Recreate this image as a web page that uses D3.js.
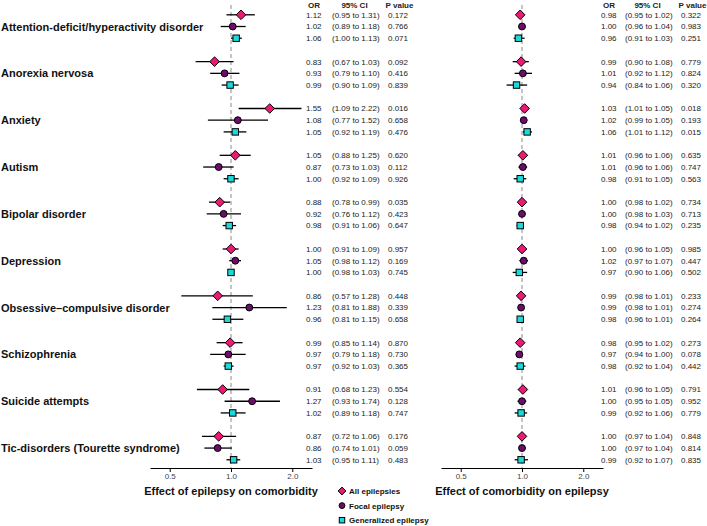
<!DOCTYPE html>
<html><head><meta charset="utf-8">
<script src="https://cdn.jsdelivr.net/npm/d3@7"></script>
<style>
html,body{margin:0;padding:0;background:#fff;}
svg{display:block;font-family:"Liberation Sans",Arial,Helvetica,sans-serif;}
</style></head>
<body>
<svg id="chart" width="707" height="526"></svg>
<script>
const conditions = ["Attention-deficit/hyperactivity disorder","Anorexia nervosa","Anxiety","Autism","Bipolar disorder","Depression","Obsessive\u2013compulsive disorder","Schizophrenia","Suicide attempts","Tic-disorders (Tourette syndrome)"];
const subtypes = ["All epilepsies","Focal epilepsy","Generalized epilepsy"];

// Effect of epilepsy on comorbidity: [OR, lower, upper, p] per condition x subtype
const leftOR  = [[1.12,1.02,1.06],[0.83,0.93,0.99],[1.55,1.08,1.05],[1.05,0.87,1.00],[0.88,0.92,0.98],[1.00,1.05,1.00],[0.86,1.23,0.96],[0.99,0.97,0.97],[0.91,1.27,1.02],[0.87,0.86,1.03]];
const leftLo  = [[0.95,0.89,1.00],[0.67,0.79,0.90],[1.09,0.77,0.92],[0.88,0.73,0.92],[0.78,0.76,0.91],[0.91,0.98,0.98],[0.57,0.81,0.81],[0.85,0.79,0.92],[0.68,0.93,0.89],[0.72,0.74,0.95]];
const leftHi  = [[1.31,1.18,1.13],[1.03,1.10,1.09],[2.22,1.52,1.19],[1.25,1.03,1.09],[0.99,1.12,1.06],[1.09,1.12,1.03],[1.28,1.88,1.15],[1.14,1.18,1.03],[1.23,1.74,1.18],[1.06,1.01,1.11]];
const leftP   = [["0.172","0.766","0.071"],["0.092","0.416","0.839"],["0.016","0.658","0.476"],["0.620","0.112","0.926"],["0.035","0.423","0.647"],["0.957","0.169","0.745"],["0.448","0.339","0.658"],["0.870","0.730","0.365"],["0.554","0.128","0.747"],["0.176","0.059","0.483"]];

// Effect of comorbidity on epilepsy
const rightOR = [[0.98,1.00,0.96],[0.99,1.01,0.94],[1.03,1.02,1.06],[1.01,1.01,0.98],[1.00,1.00,0.98],[1.00,1.02,0.97],[0.99,0.99,0.98],[0.98,0.97,0.98],[1.01,1.00,0.99],[1.00,1.00,0.99]];
const rightLo = [[0.95,0.96,0.91],[0.90,0.92,0.84],[1.01,0.99,1.01],[0.96,0.96,0.91],[0.98,0.98,0.94],[0.96,0.97,0.90],[0.98,0.98,0.96],[0.95,0.94,0.92],[0.96,0.95,0.92],[0.97,0.97,0.92]];
const rightHi = [[1.02,1.04,1.03],[1.08,1.12,1.06],[1.05,1.05,1.12],[1.06,1.06,1.05],[1.02,1.03,1.02],[1.05,1.07,1.06],[1.01,1.01,1.01],[1.02,1.00,1.04],[1.05,1.05,1.06],[1.04,1.04,1.07]];
const rightP  = [["0.322","0.983","0.251"],["0.779","0.824","0.320"],["0.018","0.193","0.015"],["0.635","0.747","0.563"],["0.734","0.713","0.235"],["0.985","0.447","0.502"],["0.233","0.274","0.264"],["0.273","0.078","0.442"],["0.791","0.952","0.779"],["0.848","0.814","0.835"]];

const tickValues = [0.5, 1.0, 2.0];
const tickLabels = ["0.5","1.0","2.0"];
const axisTitles = ["Effect of epilepsy on comorbidity","Effect of comorbidity on epilepsy"];
const colHeads = ["OR","95% CI","P value"];

const colors = ["#EC1A74","#6E0C6E","#1CDADA"];
const svg = d3.select("#chart");

// row index -> y
const yRow = d3.scaleLinear().domain([0, 39]).range([14.8, 14.8 + 39*11.71]);
const rowY = (i, j) => yRow(4*i + j);
const axisY = 468;

function marker(g, type, size) {
  if (type === 0) {
    g.append("path").attr("d", d3.symbol(d3.symbolDiamond2 ? d3.symbolSquare : d3.symbolSquare, size*size).size(0)());
  }
}
function drawMarker(sel, k, x, y, s) {
  // s = half width
  let el;
  if (k === 0) {
    el = sel.append("path").attr("d", `M${x},${y-s}L${x+s},${y}L${x},${y+s}L${x-s},${y}Z`);
  } else if (k === 1) {
    el = sel.append("circle").attr("cx", x).attr("cy", y).attr("r", s*0.75);
  } else {
    const h = s*0.7;
    el = sel.append("rect").attr("x", x-h).attr("y", y-h).attr("width", 2*h).attr("height", 2*h);
  }
  el.attr("fill", colors[k]).attr("stroke", "#000").attr("stroke-width", 1);
}

function panel(x0, x1, OR, LO, HI, P, title, tcols) {
  const x = d3.scaleLog().domain([0.4, 2.5]).range([x0, x1]);
  const g = svg.append("g");
  // reference dashed line
  g.append("line").attr("x1", x(1)).attr("x2", x(1)).attr("y1", 5).attr("y2", axisY)
    .attr("stroke", "#8a8a8a").attr("stroke-width", 1).attr("stroke-dasharray", "4,3");
  // axis
  const ax = d3.axisBottom(x).tickValues(tickValues).tickFormat((d,i)=>tickLabels[i]).tickSize(4).tickSizeOuter(0);
  const ag = g.append("g").attr("transform", `translate(0,${axisY})`).call(ax);
  ag.select(".domain").attr("stroke", "#000").attr("stroke-width", 1);
  ag.selectAll(".tick line").attr("stroke", "#000");
  ag.selectAll(".tick text").attr("font-size", 8).attr("fill", "#444").attr("dy", "0.55em")
    .attr("font-family", "Liberation Sans, Arial, sans-serif");
  g.append("text").attr("x", x(1)).attr("y", 495).attr("text-anchor", "middle")
    .attr("font-size", 11).attr("font-weight", "bold").attr("fill", "#111").text(title);
  // headers
  const hx = [tcols[0]+8, tcols[1]+22.5, tcols[2]+11.5];
  colHeads.forEach((h, c) => {
    g.append("text").attr("x", hx[c]).attr("y", 8).attr("text-anchor", "middle")
      .attr("font-size", 8).attr("font-weight", "bold").attr("fill", "#222").text(h);
  });
  conditions.forEach((cond, i) => {
    for (let j = 0; j < 3; j++) {
      const y = rowY(i, j);
      g.append("line").attr("x1", x(LO[i][j])).attr("x2", x(HI[i][j])).attr("y1", y).attr("y2", y)
        .attr("stroke", "#000").attr("stroke-width", 1.3);
      drawMarker(g, j, x(OR[i][j]), y, j === 0 ? 4.8 : 4.6);
      const ty = y + 2.9;
      g.append("text").attr("x", tcols[0]).attr("y", ty).attr("font-size", 8).attr("fill", "#222")
        .text(OR[i][j].toFixed(2));
      g.append("text").attr("x", tcols[1]).attr("y", ty).attr("font-size", 8).attr("fill", "#222")
        .text(`(${LO[i][j].toFixed(2)} to ${HI[i][j].toFixed(2)})`);
      g.append("text").attr("x", tcols[2]).attr("y", ty).attr("font-size", 8).attr("fill", "#222")
        .text(P[i][j]);
    }
  });
}

// condition labels
conditions.forEach((c, i) => {
  svg.append("text").attr("x", 1).attr("y", rowY(i, 1) + 4).attr("font-size", 11)
    .attr("font-weight", "bold").attr("fill", "#111").text(c);
});

panel(150, 312, leftOR, leftLo, leftHi, leftP, axisTitles[0], [306, 332, 388]);
panel(441, 603, rightOR, rightLo, rightHi, rightP, axisTitles[1], [601, 625, 681]);

// legend
const lg = svg.append("g");
subtypes.forEach((s, k) => {
  const y = 491 + k*14.6;
  drawMarker(lg, k, 342, y, 3.9);
  lg.append("text").attr("x", 349).attr("y", y + 2.9).attr("font-size", 8).attr("font-weight", "bold")
    .attr("fill", "#111").text(s);
});
</script>
</body></html>
